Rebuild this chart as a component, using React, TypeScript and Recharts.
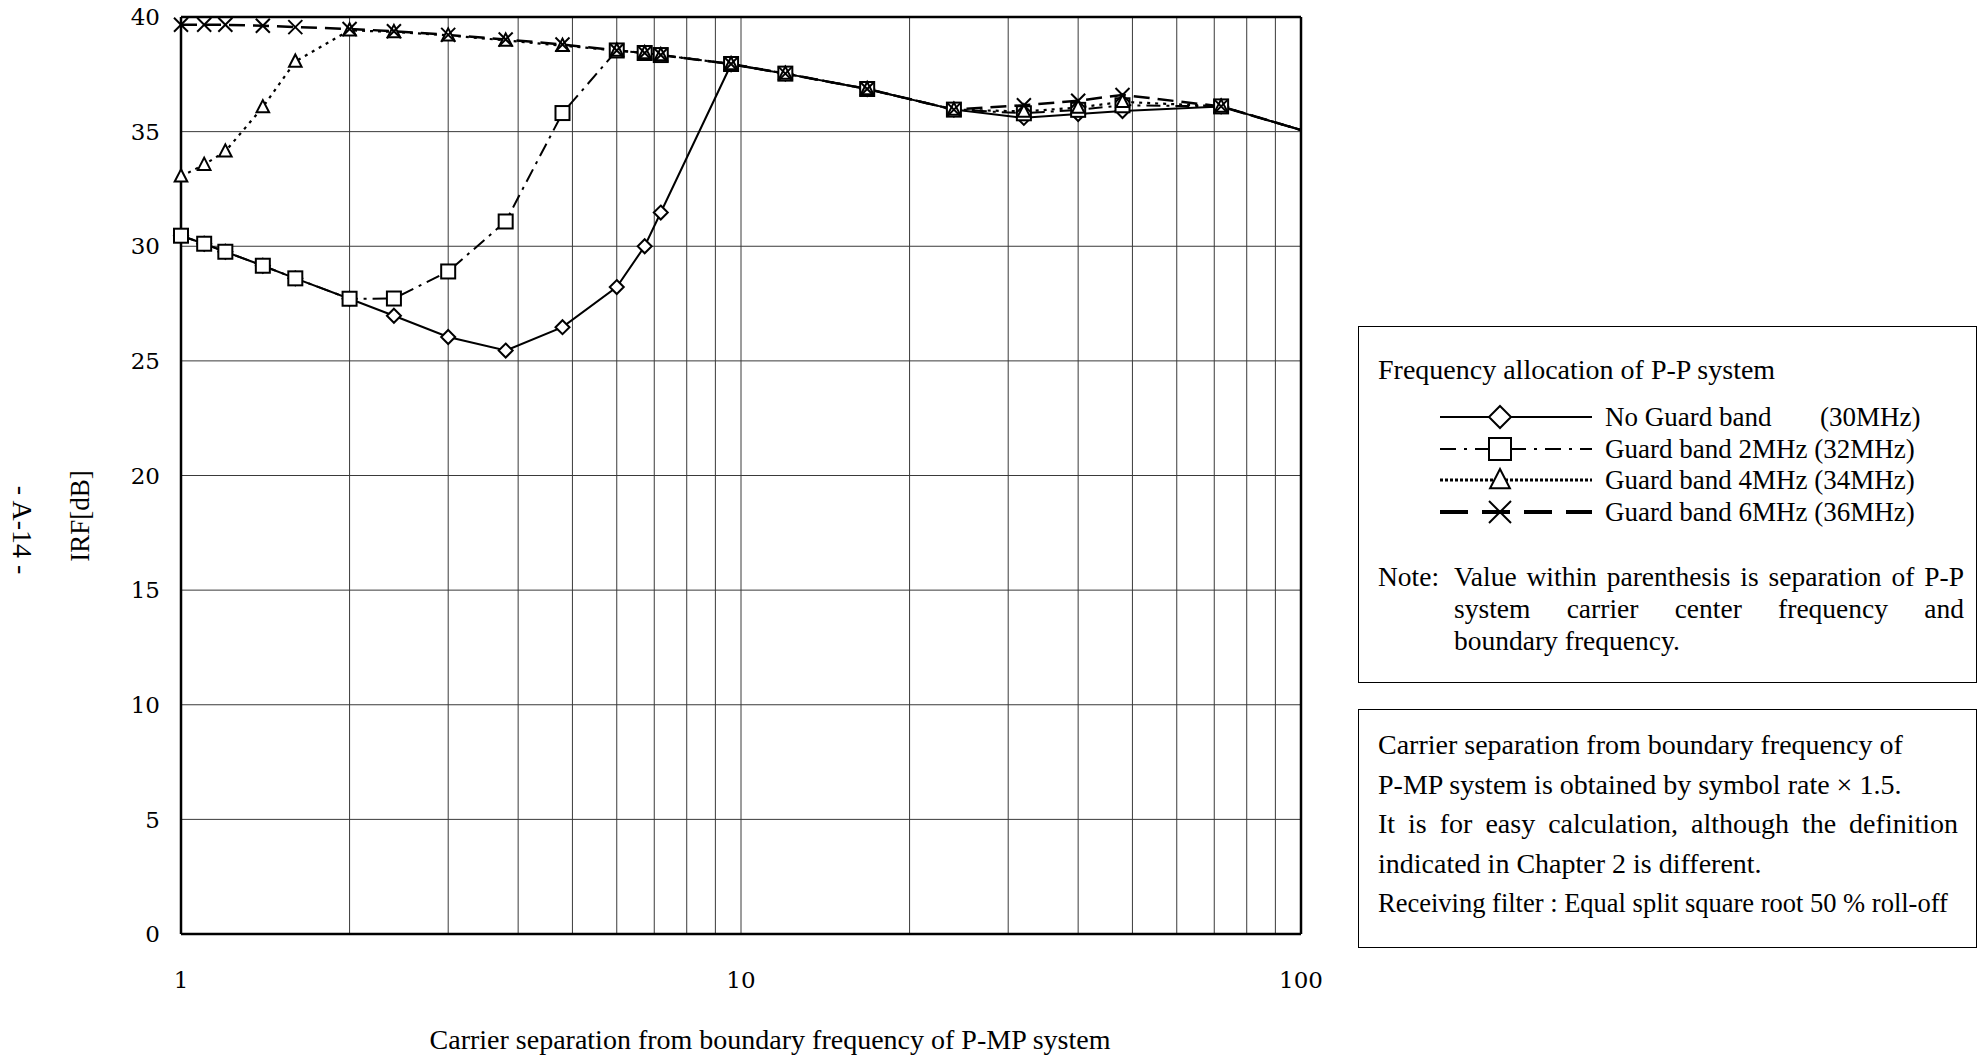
import { LineChart, Line, XAxis, YAxis, CartesianGrid, ReferenceLine } from 'recharts';

// carrier separation [MHz] (log axis)
const SEPARATION = [1, 1.1, 1.2, 1.4, 1.6, 2, 2.4, 3, 3.8, 4.8, 6, 6.73, 7.19, 9.6, 12, 16.8, 24, 32, 40, 48, 72, 100];

// IRF [dB] per P-P frequency allocation
const NO_GUARD = [30.46, 30.11, 29.76, 29.15, 28.6, 27.71, 26.97, 26.04, 25.45, 26.47, 28.22, 30.0, 31.47, 37.93, 37.53, 36.86, 35.96, 35.6, 35.77, 35.9, 36.1, 35.07];
const GUARD_2 = [30.46, 30.11, 29.76, 29.15, 28.6, 27.71, 27.72, 28.9, 31.08, 35.81, 38.54, 38.43, 38.34, 37.95, 37.53, 36.86, 35.96, 35.8, 35.95, 36.15, 36.1, 35.07];
const GUARD_4 = [33.05, 33.56, 34.14, 36.07, 38.06, 39.42, 39.35, 39.2, 38.98, 38.75, 38.54, 38.43, 38.34, 37.95, 37.53, 36.86, 35.96, 35.88, 36.05, 36.3, 36.1, 35.07];
const GUARD_6 = [39.66, 39.66, 39.66, 39.62, 39.56, 39.48, 39.38, 39.22, 39.02, 38.8, 38.54, 38.43, 38.34, 37.95, 37.53, 36.86, 35.96, 36.15, 36.35, 36.6, 36.1, 35.07];

const X_TICKS = [1, 2, 3, 4, 5, 6, 7, 8, 9, 10, 20, 30, 40, 50, 60, 70, 80, 90, 100];
const X_LABELS = [1, 10, 100];
const Y_TICKS = [0, 5, 10, 15, 20, 25, 30, 35, 40];

const SERIES = [
  { key: 'noGuard', name: 'No Guard band', sep: '(30MHz)', marker: 'diamond', dash: undefined, width: 2, legendDash: undefined },
  { key: 'g2', name: 'Guard band 2MHz', sep: '(32MHz)', marker: 'square', dash: '14 6 3 6', width: 2, legendDash: '16 8 3 8' },
  { key: 'g4', name: 'Guard band 4MHz', sep: '(34MHz)', marker: 'triangle', dash: '3 5', width: 2.2, legendDash: '3 2' },
  { key: 'g6', name: 'Guard band 6MHz', sep: '(36MHz)', marker: 'cross', dash: '16 8', width: 2.5, legendDash: '28 14' },
];

const data = SEPARATION.map((x, i) => ({
  x,
  noGuard: NO_GUARD[i],
  g2: GUARD_2[i],
  g4: GUARD_4[i],
  g6: GUARD_6[i],
}));

const serif = '"Liberation Serif", "Times New Roman", serif';
const tickFont = '"DejaVu Serif", serif';

function Marker({ kind, cx, cy, r }: { kind: string; cx: number; cy: number; r: number }) {
  if (kind === 'diamond') {
    return (
      <polygon
        points={`${cx},${cy - r} ${cx + r},${cy} ${cx},${cy + r} ${cx - r},${cy}`}
        fill="#fff"
        stroke="#000"
        strokeWidth={2}
      />
    );
  }
  if (kind === 'square') {
    return <rect x={cx - r} y={cy - r} width={2 * r} height={2 * r} fill="#fff" stroke="#000" strokeWidth={2} />;
  }
  if (kind === 'triangle') {
    return (
      <polygon
        points={`${cx},${cy - r} ${cx + r * 0.9},${cy + r * 0.75} ${cx - r * 0.9},${cy + r * 0.75}`}
        fill="#fff"
        stroke="#000"
        strokeWidth={2}
      />
    );
  }
  return (
    <g stroke="#000" strokeWidth={2}>
      <line x1={cx - r} y1={cy - r} x2={cx + r} y2={cy + r} />
      <line x1={cx - r} y1={cy + r} x2={cx + r} y2={cy - r} />
    </g>
  );
}

const renderDot = (kind: string) => (props: any) => {
  const { cx, cy, index, payload } = props;
  if (payload.x >= 100 || cx == null) return <g key={`d-${kind}-${index}`} />;
  return (
    <g key={`d-${kind}-${index}`}>
      <Marker kind={kind} cx={cx} cy={cy} r={7} />
    </g>
  );
};

function LegendSample({ dash, marker }: { dash?: string; marker: string }) {
  return (
    <svg width={152} height={28} style={{ display: 'block' }}>
      <line x1={0} y1={14} x2={152} y2={14} stroke="#000" strokeWidth={marker === 'cross' ? 4 : marker === 'triangle' ? 3 : 2} strokeDasharray={dash} />
      <Marker kind={marker} cx={60} cy={14} r={11} />
    </svg>
  );
}

export default function App() {
  return (
    <div style={{ position: 'absolute', left: 0, top: 0, width: 1988, height: 1056, background: '#fff', fontFamily: serif, color: '#000' }}>
      <LineChart
        width={1988}
        height={1056}
        data={data}
        margin={{ top: 17, right: 687, left: 121, bottom: 72 }}
      >
        <CartesianGrid stroke="#3a3a3a" strokeWidth={1} />
        <XAxis
          dataKey="x"
          type="number"
          scale="log"
          domain={[1, 100]}
          ticks={X_TICKS}
          interval={0}
          height={50}
          tickLine={false}
          tickSize={6}
          tickMargin={32}
          axisLine={{ stroke: '#000', strokeWidth: 2.5 }}
          tick={{ fill: '#000', fontSize: 23, fontFamily: tickFont }}
          tickFormatter={(v: number) => (X_LABELS.includes(v) ? String(v) : '')}
        />
        <YAxis
          type="number"
          domain={[0, 40]}
          ticks={Y_TICKS}
          interval={0}
          width={60}
          tickLine={false}
          tickSize={6}
          tickMargin={15}
          axisLine={{ stroke: '#000', strokeWidth: 2.5 }}
          tick={{ fill: '#000', fontSize: 23, fontFamily: tickFont }}
        />
        <ReferenceLine y={40} stroke="#000" strokeWidth={2.5} />
        <ReferenceLine x={100} stroke="#000" strokeWidth={2.5} />
        {SERIES.map((s) => (
          <Line
            key={s.key}
            dataKey={s.key}
            name={s.name}
            type="linear"
            stroke="#000"
            strokeWidth={s.width}
            strokeDasharray={s.dash}
            dot={renderDot(s.marker)}
            activeDot={false}
            isAnimationActive={false}
          />
        ))}
      </LineChart>

      {/* axis titles and page mark */}
      <div style={{ position: 'absolute', left: 80, top: 516, transform: 'translate(-50%, -50%) rotate(-90deg)', fontSize: 27, whiteSpace: 'nowrap' }}>
        IRF[dB]
      </div>
      <div style={{ position: 'absolute', left: 22, top: 530, transform: 'translate(-50%, -50%) rotate(90deg)', fontSize: 28, whiteSpace: 'nowrap' }}>
        - A-14 -
      </div>
      <div style={{ position: 'absolute', left: 770, top: 1040, transform: 'translate(-50%, -50%)', fontSize: 28, whiteSpace: 'nowrap' }}>
        Carrier separation from boundary frequency of P-MP system
      </div>

      {/* legend box */}
      <div style={{ position: 'absolute', left: 1358, top: 326, width: 619, height: 357, boxSizing: 'border-box', border: '1.5px solid #000', fontSize: 28 }}>
        <div style={{ position: 'absolute', left: 19, top: 27, whiteSpace: 'nowrap', lineHeight: '32px' }}>Frequency allocation of P-P system</div>
        {SERIES.map((s, i) => (
          <div key={s.key} style={{ position: 'absolute', left: 81, top: 76 + i * 31.7, display: 'flex', alignItems: 'center', whiteSpace: 'pre', lineHeight: '28px', fontSize: 27 }}>
            <LegendSample dash={s.legendDash} marker={s.marker} />
            {i === 0 ? (
              <>
                <span style={{ display: 'inline-block', width: 215, marginLeft: 13 }}>{s.name}</span>
                <span>{s.sep}</span>
              </>
            ) : (
              <span style={{ marginLeft: 13 }}>{`${s.name} ${s.sep}`}</span>
            )}
          </div>
        ))}
        <div style={{ position: 'absolute', left: 19, top: 234, display: 'flex', lineHeight: '32px', fontSize: 27.5 }}>
          <span style={{ width: 76, flexShrink: 0 }}>Note:</span>
          <div style={{ width: 510 }}>
            <div style={{ whiteSpace: 'nowrap', textAlign: 'justify', textAlignLast: 'justify' }}>Value within parenthesis is separation of P-P</div>
            <div style={{ whiteSpace: 'nowrap', textAlign: 'justify', textAlignLast: 'justify' }}>system carrier center frequency and</div>
            <div style={{ whiteSpace: 'nowrap' }}>boundary frequency.</div>
          </div>
        </div>
      </div>

      {/* calculation note box */}
      <div style={{ position: 'absolute', left: 1358, top: 709, width: 619, height: 239, boxSizing: 'border-box', border: '1.5px solid #000', fontSize: 28, lineHeight: '39.7px' }}>
        <div style={{ position: 'absolute', left: 19, top: 15, width: 580 }}>
          <div style={{ whiteSpace: 'nowrap' }}>Carrier separation from boundary frequency of</div>
          <div style={{ whiteSpace: 'nowrap' }}>P-MP system is obtained by symbol rate × 1.5.</div>
          <div style={{ whiteSpace: 'nowrap', textAlign: 'justify', textAlignLast: 'justify' }}>It is for easy calculation, although the definition</div>
          <div style={{ whiteSpace: 'nowrap' }}>indicated in Chapter 2 is different.</div>
          <div style={{ whiteSpace: 'nowrap', fontSize: 26.5 }}>Receiving filter : Equal split square root 50 % roll-off</div>
        </div>
      </div>
    </div>
  );
}
